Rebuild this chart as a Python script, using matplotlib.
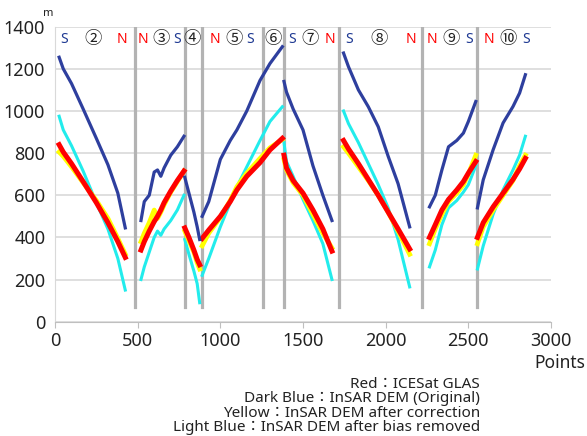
import matplotlib
matplotlib.use('Agg')
import matplotlib.pyplot as plt

plt.rcParams['font.family'] = ['Noto Sans', 'Noto Sans CJK JP', 'DejaVu Sans']

# dati per tratto (x comune, poi una lista per serie)
seg2_x = [25, 50, 100, 170, 250, 320, 380, 425]
seg2_blue = [1255, 1200, 1130, 1010, 870, 745, 610, 445]
seg2_cyan = [975, 910, 835, 715, 565, 440, 300, 150]
seg2_yellow = [805, 785, 735, 660, 575, 490, 395, 320]
seg2_red = [840, 805, 750, 665, 565, 470, 380, 305]

seg3_x = [520, 540, 570, 600, 620, 640, 660, 700, 740, 780]
seg3_blue = [480, 570, 600, 710, 720, 690, 730, 790, 830, 880]
seg3_cyan = [200, 260, 330, 400, 430, 410, 440, 480, 530, 600]
seg3_yellow = [380, 420, 470, 530, 490, 520, 555, 615, 665, 715]
seg3_red = [340, 380, 430, 475, 500, 530, 565, 620, 670, 715]

seg4_x = [785, 810, 840, 860, 875]
seg4_blue = [685, 610, 520, 450, 390]
seg4_cyan = [390, 320, 240, 180, 90]
seg4_yellow = [430, 385, 330, 280, 250]
seg4_red = [445, 400, 340, 295, 270]

seg5_x = [890, 930, 1000, 1060, 1100, 1160, 1240, 1300, 1375]
seg5_blue = [500, 570, 770, 860, 910, 1000, 1145, 1225, 1305]
seg5_cyan = [220, 300, 450, 565, 640, 735, 860, 950, 1020]
seg5_yellow = [360, 420, 495, 575, 640, 705, 775, 825, 865]
seg5_red = [395, 435, 500, 570, 625, 690, 755, 815, 870]

seg7_x = [1385, 1400, 1440, 1500, 1560, 1620, 1675]
seg7_blue = [1140, 1090, 1010, 910, 740, 600, 480]
seg7_cyan = [850, 760, 690, 580, 480, 370, 200]
seg7_yellow = [770, 720, 660, 600, 510, 420, 350]
seg7_red = [790, 730, 670, 610, 530, 440, 335]

seg8_x = [1745, 1775, 1835, 1895, 1955, 2015, 2075, 2145]
seg8_blue = [1275, 1210, 1100, 1020, 925, 785, 655, 450]
seg8_cyan = [1000, 940, 850, 750, 650, 540, 390, 165]
seg8_yellow = [830, 800, 735, 670, 600, 520, 430, 320]
seg8_red = [860, 820, 750, 675, 600, 520, 440, 345]

seg9_x = [2265, 2300, 2340, 2380, 2430, 2470, 2500, 2545]
seg9_blue = [545, 600, 720, 830, 860, 895, 950, 1045]
seg9_cyan = [260, 340, 460, 540, 575, 615, 650, 740]
seg9_yellow = [370, 440, 510, 570, 610, 650, 700, 790]
seg9_red = [400, 460, 530, 580, 625, 665, 705, 760]

seg10_x = [2555, 2590, 2650, 2710, 2770, 2810, 2845]
seg10_blue = [540, 673, 816, 943, 1021, 1085, 1172]
seg10_cyan = [250, 360, 510, 625, 720, 790, 880]
seg10_yellow = [370, 450, 530, 600, 670, 740, 790]
seg10_red = [400, 470, 545, 610, 675, 725, 775]

# linee verticali di separazione
sep_x = [485, 785, 887, 1260, 1387, 1720, 2218, 2551]

# etichette in alto
lab_x = [55, 230, 405, 532, 641, 738, 829, 968, 1083, 1180, 1319, 1434, 1543, 1664,
         1779, 1960, 2153, 2279, 2394, 2505, 2626, 2741, 2847]
lab_text = ['S', '②', 'N', 'N', '③', 'S', '④', 'N', '⑤', 'S', '⑥', 'S', '⑦', 'N',
            'S', '⑧', 'N', 'N', '⑨', 'S', 'N', '⑩', 'S']

legend_lines = ['Red\uff1aICESat GLAS',
                'Dark Blue\uff1aInSAR DEM (Original)',
                'Yellow\uff1aInSAR DEM after correction',
                'Light Blue\uff1aInSAR DEM after bias removed']

segments = [
    (seg2_x, seg2_cyan, seg2_yellow, seg2_red, seg2_blue),
    (seg3_x, seg3_cyan, seg3_yellow, seg3_red, seg3_blue),
    (seg4_x, seg4_cyan, seg4_yellow, seg4_red, seg4_blue),
    (seg5_x, seg5_cyan, seg5_yellow, seg5_red, seg5_blue),
    (seg7_x, seg7_cyan, seg7_yellow, seg7_red, seg7_blue),
    (seg8_x, seg8_cyan, seg8_yellow, seg8_red, seg8_blue),
    (seg9_x, seg9_cyan, seg9_yellow, seg9_red, seg9_blue),
    (seg10_x, seg10_cyan, seg10_yellow, seg10_red, seg10_blue),
]

fig = plt.figure(figsize=(5.87, 4.36), dpi=100)
ax = fig.add_axes([0.0937, 0.2622, 0.8450, 0.6766])

for xs, cy, ye, re, bl in segments:
    ax.plot(xs, cy, color='#22ecec', lw=2.2, zorder=3)
    ax.plot(xs, ye, color='#ffff00', lw=3.4, zorder=4)
    ax.plot(xs, re, color='#ff0000', lw=3.6, zorder=5)
    ax.plot(xs, bl, color='#2e3f9e', lw=2.3, zorder=6)

for xv in sep_x:
    ax.plot([xv, xv], [70, 1400], color='#b3b3b3', lw=2.3, zorder=2)

for xv, t in zip(lab_x, lab_text):
    if t == 'S':
        ax.text(xv, 1340, t, color='#1f3a93', fontsize=10, fontweight='bold',
                ha='center', va='center', zorder=7)
    elif t == 'N':
        ax.text(xv, 1340, t, color='#ff0000', fontsize=10, fontweight='bold',
                ha='center', va='center', zorder=7)
    else:
        ax.text(xv, 1340, t, color='#222222', fontsize=12.5,
                family=['Noto Sans CJK JP', 'DejaVu Sans'],
                ha='center', va='center', zorder=7)

ax.set_xlim(0, 3000)
ax.set_ylim(0, 1400)
ax.set_xticks([0, 500, 1000, 1500, 2000, 2500, 3000])
ax.set_yticks(range(0, 1401, 200))
ax.grid(axis='y', color='#d9d9d9', lw=1.2)
ax.set_axisbelow(True)
for s in ['top', 'right']:
    ax.spines[s].set_visible(False)
ax.spines['left'].set_color('#d9d9d9')
ax.spines['bottom'].set_color('#bfbfbf')
ax.tick_params(axis='y', length=0, labelsize=13, labelcolor='#222222', pad=7)
ax.tick_params(axis='x', length=4, color='#bfbfbf', labelsize=13, labelcolor='#222222')

fig.text(0.954, 0.167, 'Points', fontsize=12.5, color='#222222', ha='center', va='center')
fig.text(0.082, 0.970, 'm', fontsize=8, color='#222222', ha='center', va='center')

for i, line in enumerate(legend_lines):
    fig.text(0.818, 1 - (384 + 14.6 * i) / 436, line, fontsize=11, color='#222222',
             ha='right', va='center')

fig.savefig('out.png', dpi=100)
